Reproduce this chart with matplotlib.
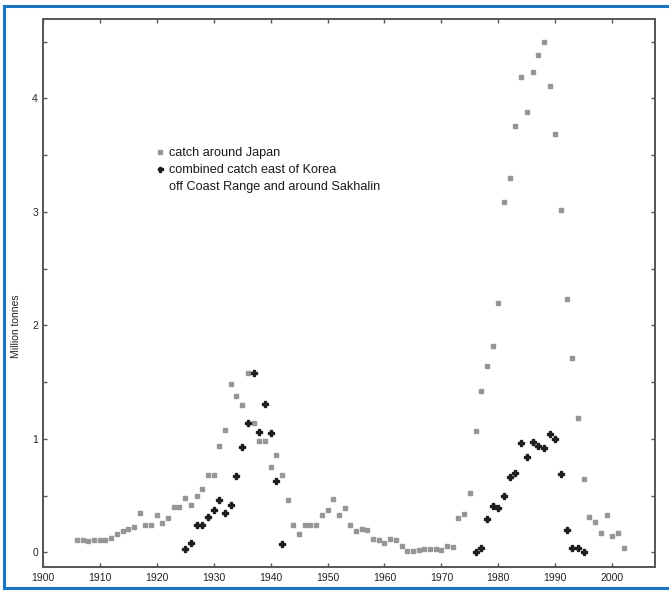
import numpy as np
import matplotlib
matplotlib.use('Agg')
import matplotlib.pyplot as plt
from matplotlib.lines import Line2D

# ── data (million tonnes) ─────────────────────────────────────────────────────
japan_years = np.arange(1906, 2003)
japan_catch = [
    0.11, 0.11, 0.10, 0.11, 0.11, 0.11, 0.13, 0.16, 0.19, 0.21,   # 1906-1915
    0.22, 0.35, 0.24, 0.24, 0.33, 0.26, 0.30, 0.40, 0.40, 0.48,   # 1916-1925
    0.42, 0.50, 0.56, 0.68, 0.68, 0.94, 1.08, 1.48, 1.38, 1.30,   # 1926-1935
    1.58, 1.14, 0.98, 0.98, 0.75, 0.86, 0.68, 0.46, 0.24, 0.16,   # 1936-1945
    0.24, 0.24, 0.24, 0.33, 0.37, 0.47, 0.33, 0.39, 0.24, 0.19,   # 1946-1955
    0.21, 0.20, 0.12, 0.11, 0.08, 0.12, 0.11, 0.06, 0.01, 0.01,   # 1956-1965
    0.02, 0.03, 0.03, 0.03, 0.02, 0.06, 0.05, 0.30, 0.34, 0.52,   # 1966-1975
    1.07, 1.42, 1.64, 1.82, 2.20, 3.09, 3.30, 3.76, 4.19, 3.88,   # 1976-1985
    4.23, 4.38, 4.50, 4.11, 3.69, 3.02, 2.23, 1.71, 1.18, 0.65,   # 1986-1995
    0.31, 0.27, 0.17, 0.33, 0.14, 0.17, 0.04,                     # 1996-2002
]

korea_years_a = np.arange(1925, 1943)
korea_catch_a = [0.03, 0.08, 0.24, 0.24, 0.31, 0.37, 0.46, 0.35, 0.42,
                 0.67, 0.93, 1.14, 1.58, 1.06, 1.31, 1.05, 0.63, 0.07]
korea_years_b = np.arange(1976, 1996)
korea_catch_b = [0.00, 0.04, 0.29, 0.41, 0.39, 0.50, 0.66, 0.70, 0.96, 0.84,
                 0.97, 0.94, 0.92, 1.04, 1.00, 0.69, 0.20, 0.04, 0.04, 0.00]

x_ticks = np.arange(1900, 2001, 10)
y_ticks = [0, 1, 2, 3, 4]

C_JAPAN = '#969696'
C_KOREA = '#1e1e1e'
C_AXIS = '#555555'

plt.rcParams['font.family'] = ['Liberation Sans', 'DejaVu Sans']

fig = plt.figure(figsize=(6.69, 5.92), dpi=100)
ax = fig.add_axes([0.064, 0.042, 0.915, 0.926])

ax.plot(japan_years, japan_catch, 's', ms=3.4, color=C_JAPAN, mec=C_JAPAN,
        zorder=3)
ax.plot(np.concatenate([korea_years_a, korea_years_b]),
        korea_catch_a + korea_catch_b, 'P', ms=4.0, color=C_KOREA, mec=C_KOREA,
        zorder=4)

ax.set_xlim(1900, 2007.5)
ax.set_ylim(-0.13, 4.70)
ax.set_xticks(x_ticks)
ax.set_yticks(y_ticks)
ax.set_yticks(np.arange(0.5, 4.6, 1.0), minor=True)
ax.tick_params(axis='both', which='both', direction='in', top=True, right=True,
               colors=C_AXIS, labelcolor='#222', labelsize=7.5, width=1.0)
ax.tick_params(which='major', length=3)
ax.tick_params(which='minor', length=3)
ax.tick_params(axis='x', pad=4)
for s in ax.spines.values():
    s.set_color(C_AXIS)
    s.set_linewidth(1.4)

ax.set_ylabel('Million tonnes', fontsize=7.5, color='#222')
ax.yaxis.set_label_coords(-0.036, 0.44)

handles = [
    Line2D([], [], ls='', marker='s', ms=3.0, color=C_JAPAN),
    Line2D([], [], ls='', marker='P', ms=3.6, color=C_KOREA),
    Line2D([], [], ls='', marker=''),
]
labels = ['catch around Japan', 'combined catch east of Korea',
          'off Coast Range and around Sakhalin']
fig.legend(handles, labels, loc='upper left', bbox_to_anchor=(0.222, 0.762),
           frameon=False, fontsize=9.1, handlelength=0.8, handletextpad=0.35,
           labelspacing=0.38, borderpad=0, labelcolor='#1a1a1a')

# blue scan frame around the picture
for xs, ys in [([0.006, 0.006], [0.006, 0.99]), ([0.006, 1.0], [0.99, 0.99]),
               ([0.006, 1.0], [0.006, 0.006])]:
    fig.add_artist(Line2D(xs, ys, transform=fig.transFigure, color='#1a74bf', lw=2.2))

fig.savefig('out.png', dpi=100)
